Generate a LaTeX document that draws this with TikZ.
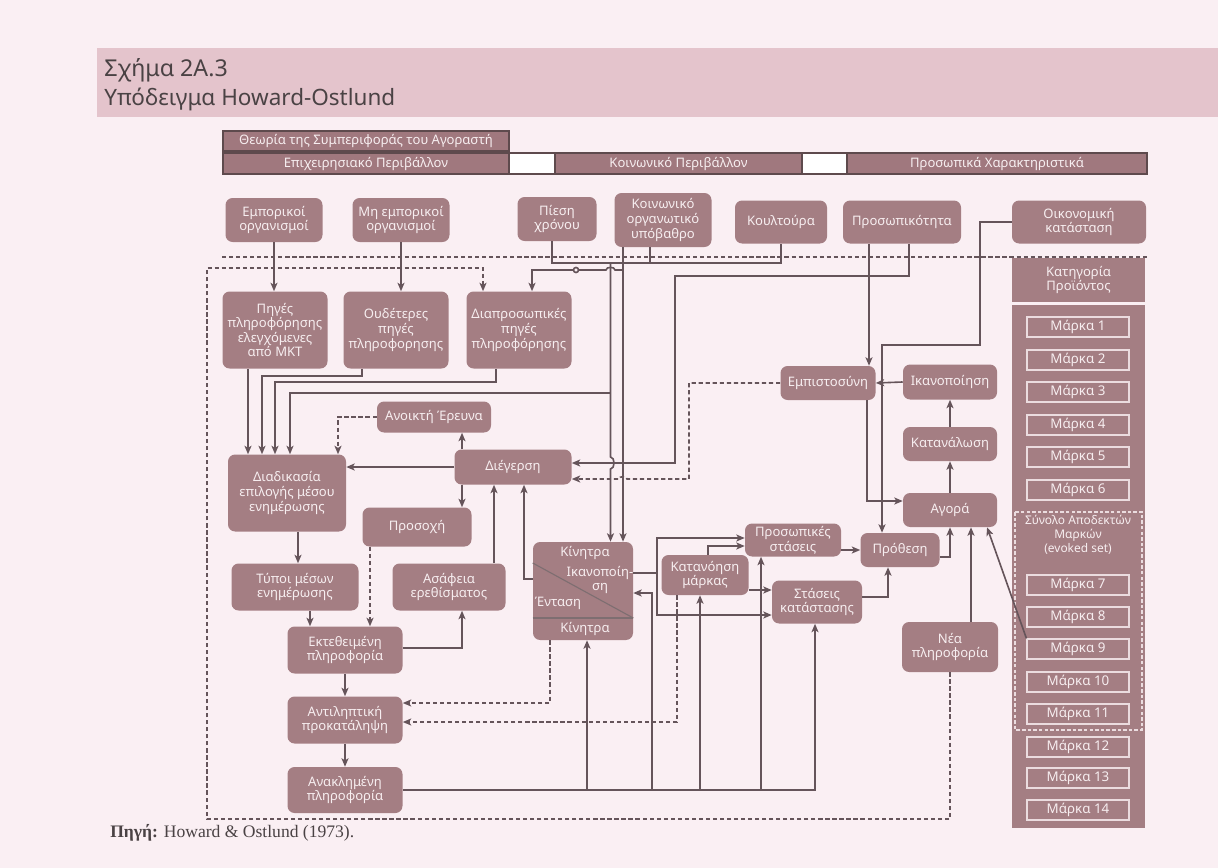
\documentclass[tikz,border=0pt]{standalone}
\usepackage{fontspec}
\setmainfont{Noto Sans}
\newfontfamily\capfont{Liberation Serif}
\usetikzlibrary{arrows.meta}

\definecolor{bgc}{HTML}{FAEFF3}
\definecolor{bandc}{HTML}{E4C4CC}
\definecolor{nodec}{HTML}{A47E83}
\definecolor{hdrc}{HTML}{A0787E}
\definecolor{hdrb}{HTML}{5E4A4D}
\definecolor{lnc}{HTML}{65545A}
\definecolor{txtc}{HTML}{F7EEF0}
\definecolor{ttlc}{HTML}{4A4244}
\definecolor{mkb}{HTML}{EBDCDF}

\newcommand{\nfont}{\fontsize{9.3}{10.4}\selectfont}

\begin{document}
\begin{tikzpicture}[x=0.025cm, y=-0.025cm,
	sz/.style 2 args={minimum width=#1*0.025cm, minimum height=#2*0.025cm},
	box/.style={fill=nodec, rounded corners=5pt, align=center, text=txtc, font=\nfont, inner sep=1pt},
	hdr/.style={draw=hdrb, line width=0.8pt, fill=hdrc, text=txtc, font=\nfont, inner sep=0pt},
	col/.style={fill=nodec, align=center, text=txtc, font=\nfont, inner sep=0pt},
	marka/.style={draw=mkb, line width=0.8pt, text=txtc, font=\fontsize{9.5}{11}\selectfont, sz={102}{20}, inner sep=0pt},
	ktxt/.style={text=txtc, font=\nfont, align=center, inner sep=0pt},
	plain/.style={draw=lnc, line width=1.15pt},
	conn/.style={plain, -{Stealth[length=6pt,width=5pt,inset=1.5pt]}},
	dconn/.style={conn, dash pattern=on 3pt off 2pt},
	dsep/.style={plain, dash pattern=on 3pt off 2pt}]

	\useasboundingbox (0,0) rectangle (1218,868);
	\fill[bgc] (0,0) rectangle (1218,868);
	\fill[bandc] (97,48) rectangle (1218,117);
	\node[anchor=west, text=ttlc, font=\fontsize{16.5}{18}\selectfont, inner sep=0pt] (ttl1) at (104,70) {Σχήμα 2Α.3};
	\node[anchor=west, text=ttlc, font=\fontsize{16}{18}\selectfont, inner sep=0pt] (ttl2) at (104,99) {Υπόδειγμα Howard-Ostlund};

	% header bars
	\node[hdr, sz={286}{20}] (hdr0) at (366,141) {Θεωρία της Συμπεριφοράς του Αγοραστή};
	\node[hdr, sz={286}{21}] (hdrA) at (366,163.5) {Επιχειρησιακό Περιβάλλον};
	\draw[hdrb, line width=0.8pt, fill=white] (509,153) rectangle (555,174);
	\node[hdr, sz={247}{21}] (hdrB) at (678.5,163.5) {Κοινωνικό Περιβάλλον};
	\draw[hdrb, line width=0.8pt, fill=white] (802,153) rectangle (847,174);
	\node[hdr, sz={300}{21}] (hdrC) at (997,163.5) {Προσωπικά Χαρακτηριστικά};

	% external variables
	\node[box, sz={97}{44}] (emp) at (274,220) {Εμπορικοί\\οργανισμοί};
	\node[box, sz={97}{44}] (mhemp) at (401,220) {Μη εμπορικοί\\οργανισμοί};
	\node[box, sz={79}{44}] (piesi) at (557,219) {Πίεση\\χρόνου};
	\node[box, sz={97}{54}] (koin) at (663,220) {Κοινωνικό\\οργανωτικό\\υπόβαθρο};
	\node[box, sz={92}{43}] (koult) at (781,222) {Κουλτούρα};
	\node[box, sz={118}{43}] (prosop) at (902,222) {Προσωπικότητα};
	\node[box, sz={134}{43}] (oikon) at (1079,222) {Οικονομική\\κατάσταση};

	\draw[dsep] (222,257) -- (1147,257);

	% product category column
	\node[col, sz={133}{44}] (katig) at (1078.5,280) {Κατηγορία\\Προϊόντος};
	\node[col, sz={133}{523}] (colb) at (1078.5,566.5) {};
	\foreach \i/\y in {1/327,2/360,3/392,4/425,5/457,6/490,7/585,8/617,9/649,10/682,11/714,12/747,13/778,14/810}
		\node[marka] (m\i) at (1078,\y) {Μάρκα \i};
	\draw[mkb, line width=0.8pt, dash pattern=on 2.5pt off 1.5pt] (1015,512) rectangle (1142,730);
	\node[ktxt, font=\fontsize{8.5}{9.8}\selectfont] (evk) at (1078,535) {Σύνολο Αποδεκτών\\Μαρκών\\(evoked set)};

	% information sources
	\node[box, sz={105}{77}] (mkt) at (275,330) {Πηγές\\πληροφόρησης\\ελεγχόμενες\\από ΜΚΤ};
	\node[box, sz={105}{77}] (oud) at (396,330) {Ουδέτερες\\πηγές\\πληροφορησης};
	\node[box, sz={105}{77}] (diapr) at (519,330) {Διαπροσωπικές\\πηγές\\πληροφόρησης};

	% perceptual constructs
	\node[box, sz={114}{31}] (anoikti) at (434,417) {Ανοικτή Έρευνα};
	\node[box, sz={117}{35}] (diegersi) at (513,467) {Διέγερση};
	\node[box, sz={118}{77}] (diadik) at (287,493) {Διαδικασία\\επιλογής μέσου\\ενημέρωσης};
	\node[box, sz={109}{39}] (prosoxi) at (417,527) {Προσοχή};
	\node[box, sz={127}{47}] (typoi) at (295,587) {Τύποι μέσων\\ενημέρωσης};
	\node[box, sz={113}{47}] (asafeia) at (449,587) {Ασάφεια\\ερεθίσματος};
	\node[box, sz={115}{47}] (ekteth) at (345,650) {Εκτεθειμένη\\πληροφορία};
	\node[box, sz={115}{47}] (antil) at (345,720) {Αντιληπτική\\προκατάληψη};
	\node[box, sz={115}{46}] (anakl) at (345,790) {Ανακλημένη\\πληροφορία};

	% motives box
	\node[box, sz={100}{98}] (kin) at (583,591) {};
	\draw[hdrb!80, line width=0.8pt] (kin.west |- 0,563) -- (kin.east |- 0,618);
	\draw[hdrb!80, line width=0.8pt] (kin.west |- 0,618) -- (kin.east |- 0,618);
	\node[ktxt] (kinT) at (585,553) {Κίνητρα};
	\node[ktxt] (kinI) at (600,580) {Ικανοποίη-\\ση};
	\node[ktxt] (kinE) at (558,603) {Ένταση};
	\node[ktxt] (kinB) at (585,629) {Κίνητρα};

	% learning constructs
	\node[box, sz={87}{40}] (katan) at (705,575) {Κατανόηση\\μάρκας};
	\node[box, sz={96}{33}] (prosst) at (793,540) {Προσωπικές\\στάσεις};
	\node[box, sz={90}{43}] (stasK) at (817,602) {Στάσεις\\κατάστασης};
	\node[box, sz={79}{34}] (prothesi) at (900,550) {Πρόθεση};
	\node[box, sz={96}{50}] (nea) at (950,647) {Νέα\\πληροφορία};
	\node[box, sz={94}{34}] (agora) at (950,510) {Αγορά};
	\node[box, sz={94}{34}] (katanal) at (950,444) {Κατανάλωση};
	\node[box, sz={94}{35}] (ikanop) at (950,382) {Ικανοποίηση};
	\node[box, sz={95}{34}] (empist) at (828,383) {Εμπιστοσύνη};

	% external inputs
	\draw[conn] (emp.south) -- (mkt.north -| emp.south);
	\draw[conn] (mhemp.south) -- (oud.north -| mhemp.south);
	\draw[plain] (552,0 |- piesi.south) |- (781,263) -- (koult.south);
	\draw[plain] (650,0 |- koin.south) -- (650,263);
	\draw[conn] (610.5,263) -- (610.5,457) to[out=0,in=0] (610.5,469) -- (610.5,0 |- kin.north);
	\draw[conn] (610.5,393) -| (290,0 |- diadik.north);
	\draw[conn] (623,0 |- koin.south) -- (623,0 |- kin.north);
	\draw[conn] (623,270) -- (615,270) to[out=90,in=90] (606,270) -| (532,0 |- diapr.north);
	\draw[plain, fill=bgc] (576,270) circle[radius=1.8pt];
	\draw[conn] (909,0 |- prosop.south) |- (675,276) |- (diegersi.east |- 0,463);
	\draw[conn] (869,0 |- prosop.south) -- (869,0 |- empist.north);
	\draw[conn] (oikon.west) -| (980,345) -| (882,0 |- prothesi.north);
	\draw[dconn] (nea.south) |- (207,819) |- (483,268) -- (483,0 |- diapr.north);

	% sources to media choice
	\draw[conn] (248,0 |- mkt.south) -- (248,0 |- diadik.north);
	\draw[conn] (362,0 |- oud.south) |- (262,376) -- (262,0 |- diadik.north);
	\draw[conn] (496,0 |- diapr.south) |- (275,382) -- (275,0 |- diadik.north);
	\draw[dconn] (anoikti.west) -| (338,0 |- diadik.north);

	% arousal and attention
	\draw[conn] (462,0 |- diegersi.north) -- (462,0 |- anoikti.south);
	\draw[conn] (diegersi.west) -- (diegersi.west -| diadik.east);
	\draw[conn] (462,0 |- diegersi.south) -- (462,0 |- prosoxi.north);
	\draw[conn] (494,0 |- asafeia.north) -- (494,0 |- diegersi.south);
	\draw[conn] (kin.west |- 0,579) -| (524,0 |- diegersi.south);
	\draw[conn] (298,0 |- diadik.south) -- (298,0 |- typoi.north);
	\draw[conn] (310,0 |- typoi.south) -- (310,0 |- ekteth.north);
	\draw[dconn] (370,0 |- prosoxi.south) -- (370,0 |- ekteth.north);
	\draw[conn] (ekteth.east |- 0,648) -| (462,0 |- asafeia.south);
	\draw[conn] (ekteth.south) -- (antil.north);
	\draw[conn] (antil.south) -- (anakl.north);
	\draw[dconn] (550,0 |- kin.south) |- (antil.east |- 0,703);
	\draw[dconn] (677,0 |- katan.south) |- (antil.east |- 0,722);

	% recalled information bus
	\draw[conn] (anakl.east) -| (815,0 |- stasK.south);
	\draw[conn] (587,790) -- (587,0 |- kin.south);
	\draw[conn] (652,790) |- (kin.east |- 0,593);
	\draw[conn] (700,790) -- (700,0 |- katan.south);
	\draw[conn] (761,790) -- (761,0 |- prosst.south);

	% attitudes and intention
	\draw[plain] (kin.east |- 0,573) -- (657,573);
	\draw[conn] (657,573) |- (prosst.west |- 0,538);
	\draw[conn] (657,573) |- (stasK.west |- 0,615);
	\draw[conn] (708,0 |- katan.north) |- (prosst.west |- 0,546);
	\draw[conn] (katan.east |- 0,590) -- (stasK.west |- 0,590);
	\draw[conn] (prosst.east |- 0,550) -- (prothesi.west |- 0,550);
	\draw[conn] (stasK.east |- 0,597) -| (888,0 |- prothesi.south);
	\draw[conn] (prothesi.east |- 0,557) -| (agora.south);
	\draw[conn] (971,0 |- nea.north) -- (971,0 |- agora.south);
	\draw[conn] (m9.north west) -- (agora.-25);

	% purchase loop
	\draw[conn] (agora.north) -- (katanal.south);
	\draw[conn] (katanal.north) -- (ikanop.south);
	\draw[conn] (ikanop.west) -- (empist.east);
	\draw[conn] (867,0 |- empist.south) |- (agora.west |- 0,501);
	\draw[dconn] (empist.west) -| (689,479) -- (627,479) to[out=90,in=90] (619,479) -- (diegersi.east |- 0,479);

	\node[anchor=west, text=ttlc, font=\capfont\fontsize{12.5}{14}\selectfont, inner sep=0pt] (src) at (110,833) {\textbf{Πηγή:} Howard \& Ostlund (1973).};
\end{tikzpicture}
\end{document}
